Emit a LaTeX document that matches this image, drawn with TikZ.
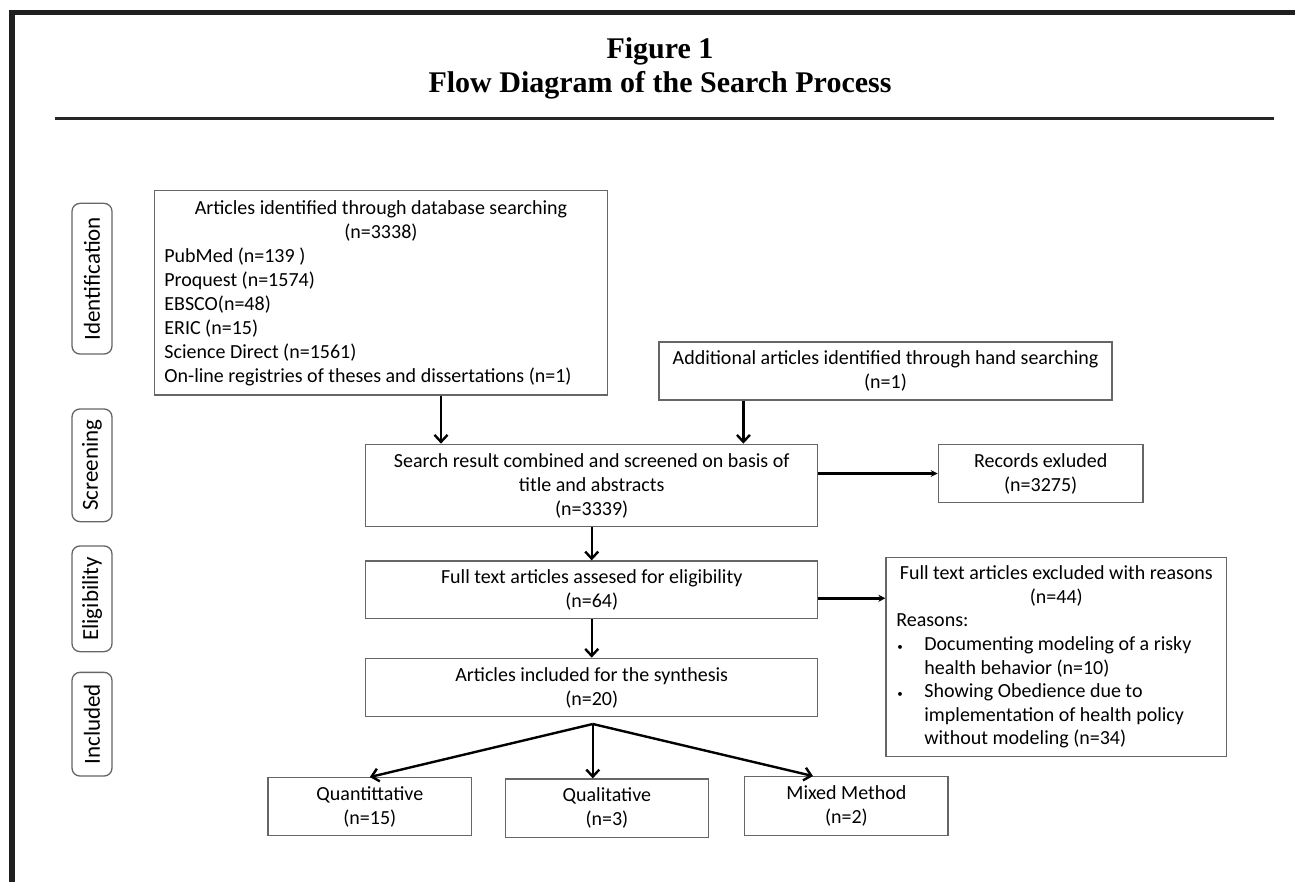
\documentclass[tikz,border=0pt]{standalone}
\usepackage{fontspec}
\setmainfont{Carlito}
\newfontfamily\titlefont{Liberation Serif}
\usetikzlibrary{arrows.meta}
\begin{document}
\begin{tikzpicture}[x=1pt,y=-1pt,
  box/.style={draw=black!60, line width=1.3pt, inner sep=0pt, align=center, font=\fontsize{20}{24}\selectfont},
  stage/.style={draw=black!60, line width=1.3pt, rounded corners=8pt, rotate=90, inner sep=0pt, minimum height=40pt, font=\fontsize{23}{24}\selectfont},
  varr/.style={line width=2.4pt, -{Straight Barb[length=7pt,width=13pt]}},
  harr/.style={line width=2.4pt, -{Stealth[length=7pt,width=7pt]}},
  ttl/.style={anchor=base, inner sep=0pt, font=\titlefont\bfseries\fontsize{30}{34}\selectfont}
]
\useasboundingbox (0,0) rectangle (1295,882);
\fill[white] (0,0) rectangle (1295,882);
% frame
\fill[black!88] (9.3,10) rectangle (1295,15);
\fill[black!88] (9.3,10) rectangle (15,882);
\fill[black!85] (55,117) rectangle (1274,120);
% title
\node[ttl] (t1) at (660,58.3) {Figure 1};
\node[ttl] (t2) at (660,92.7) {Flow Diagram of the Search Process};
% stage labels
\node[stage, minimum width=150.7pt] (sid) at (92,278.7) {Identification};
\node[stage, minimum width=112.7pt] (ssc) at (92,465.3) {Screening};
\node[stage, minimum width=105.7pt] (sel) at (92,598.8) {Eligibility};
\node[stage, minimum width=103.7pt] (sin) at (92,724.2) {Included};
% boxes
\node[box, minimum width=452.8pt, minimum height=204.3pt, text width=433pt, align=left] (db) at (380.9,292.9)
 {\spaceskip=0pt\xspaceskip=0pt\relax
  \makebox[433pt]{Articles identified through database searching}\\
  \makebox[433pt]{(n=3338)}\\
  PubMed (n=139 )\\
  Proquest (n=1574)\\
  EBSCO(n=48)\\
  ERIC (n=15)\\
  Science Direct (n=1561)\\
  On-line registries of theses and dissertations (n=1)};
\node[box, minimum width=453pt, minimum height=58pt] (hand) at (885.5,371)
 {Additional articles identified through hand searching\\(n=1)};
\node[box, minimum width=452.2pt, minimum height=82.4pt] (screen) at (591.7,485.5)
 {Search result combined and screened on basis of\\title and abstracts\\(n=3339)};
\node[box, minimum width=204.7pt, minimum height=58.4pt] (recex) at (1040.65,473.5)
 {Records exluded\\(n=3275)};
\node[box, minimum width=452.2pt, minimum height=57.7pt] (elig) at (591.7,589.85)
 {Full text articles assesed for eligibility\\(n=64)};
\node[box, minimum width=340.7pt, minimum height=199.4pt, text width=320pt, align=left, font=\fontsize{20}{23.6}\selectfont] (ftex) at (1056.35,657)
 {\spaceskip=0pt\xspaceskip=0pt\relax
  \makebox[320pt]{Full text articles excluded with reasons}\\
  \makebox[320pt]{(n=44)}\\
  Reasons:\\
  \makebox[28pt][l]{\hspace{1pt}\fontsize{11}{11}\selectfont •}Documenting modeling of a risky\\
  \hspace*{28pt}health behavior (n=10)\\
  \makebox[28pt][l]{\hspace{1pt}\fontsize{11}{11}\selectfont •}Showing Obedience due to\\
  \hspace*{28pt}implementation of health policy\\
  \hspace*{28pt}without modeling (n=34)};
\node[box, minimum width=452.1pt, minimum height=58.4pt] (incl) at (591.7,687.5)
 {Articles included for the synthesis\\(n=20)};
\node[box, minimum width=203.7pt, minimum height=58pt] (quant) at (369.85,806.7)
 {Quantittative\\(n=15)};
\node[box, minimum width=203.2pt, minimum height=58.3pt] (qual) at (606.9,808.15)
 {Qualitative\\(n=3)};
\node[box, minimum width=203.2pt, minimum height=58.6pt] (mixed) at (846.4,806)
 {Mixed Method\\(n=2)};
% connectors
\coordinate (ax1) at (441,0);
\coordinate (ax2) at (743.4,0);
\coordinate (hy2) at (0,598.3);
\coordinate (fan) at (592.8,724);
\coordinate (mx) at (813,0);
\draw[varr] (db.south -| ax1) -- (screen.north -| ax1);
\draw[varr] (hand.south -| ax2) -- (screen.north -| ax2);
\draw[harr] (recex.west -| screen.east) -- (recex.west);
\draw[varr] (screen.south) -- (elig.north);
\draw[harr] (elig.east |- hy2) -- (ftex.west |- hy2);
\draw[varr] (elig.south) -- (incl.north);
\draw[varr] (fan) -- (quant.north);
\draw[varr] (fan) -- (qual.north -| fan);
\draw[varr] (fan) -- (mixed.north -| mx);
\end{tikzpicture}
\end{document}
